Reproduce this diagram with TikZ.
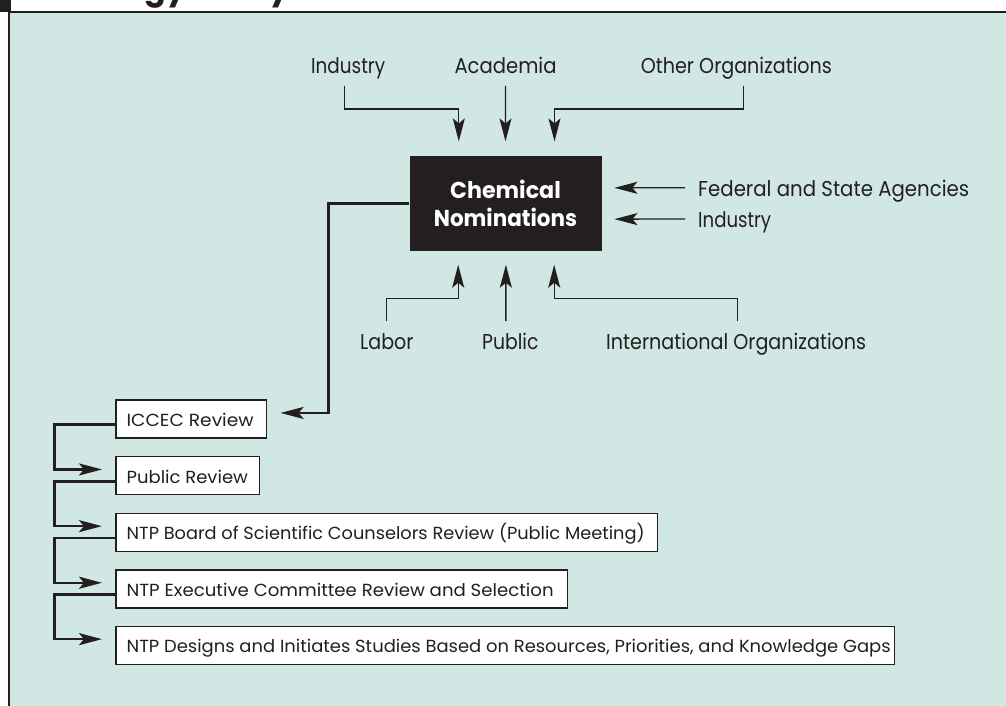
\documentclass[tikz,border=0pt]{standalone}
\usepackage{fontspec}
\setmainfont{Poppins}
\usetikzlibrary{arrows.meta}
\definecolor{bgteal}{HTML}{D1E7E4}
\definecolor{ink}{HTML}{231F20}
\newcommand{\fitw}[2]{\resizebox{#1}{\height}{#2}}
\tikzset{
  lbl/.style={inner sep=0pt, anchor=base west, text=ink, font=\fontsize{21.5}{24}\selectfont},
  stepbox/.style={draw=ink, line width=1.3pt, fill=white, anchor=north west, inner xsep=10.7pt, inner ysep=0pt,
     minimum height=38pt, text height=16pt, text depth=1.2pt, text=ink, font=\fontsize{17.5}{20}\selectfont},
  tarr/.style={draw=ink, line width=1.3pt, -{Stealth[length=23pt,width=12pt,inset=5pt]}},
  karr/.style={draw=ink, line width=2.5pt, -{Stealth[length=23pt,width=12pt,inset=5pt]}},
}
\begin{document}
\begin{tikzpicture}[x=1pt,y=-1pt]
\useasboundingbox (0,0) rectangle (1006,706);
\fill[bgteal] (10,12) rectangle (1006,706);
\draw[ink, line width=2pt] (9,12) -- (1006,12);
\draw[ink, line width=2pt] (9,11) -- (9,706);
\fill[ink] (0,0) rectangle (10.5,12.5);
\begin{scope}
  \clip (11,0) rectangle (1006,11);
  \node[inner sep=0pt, anchor=base east, text=ink, font=\bfseries\fontsize{32}{34}\selectfont] (ttl) at (290,0) {Toxicology Study};
\end{scope}

% chemical nominations box
\node[fill=ink, minimum width=192pt, minimum height=95.3pt, inner sep=0pt, anchor=north west, text=white,
      align=center, font=\bfseries\fontsize{23}{28}\selectfont] (cn) at (409.3,155.7)
      {\fitw{110.7pt}{Chemical}\\\fitw{143.2pt}{Nominations}};

% source labels
\node[lbl] (indT) at (311,73.5) {\fitw{74pt}{Industry}};
\node[lbl] (acad) at (454.3,73.5) {\fitw{102pt}{Academia}};
\node[lbl] (other) at (640.7,73.5) {\fitw{191pt}{Other Organizations}};
\node[lbl] (fed) at (698,196) {\fitw{271pt}{Federal and State Agencies}};
\node[lbl] (indR) at (698,227) {\fitw{73pt}{Industry}};
\node[lbl] (labor) at (360,349.5) {\fitw{53.3pt}{Labor}};
\node[lbl] (public) at (482,349.5) {\fitw{56.3pt}{Public}};
\node[lbl] (intl) at (606,349.5) {\fitw{260pt}{International Organizations}};

% review boxes
\node[stepbox] (b1) at (115.3,399.3) {\makebox[129.3pt][l]{\fitw{127pt}{ICCEC Review}}};
\node[stepbox] (b2) at (115.3,456) {\makebox[122.3pt][l]{\fitw{121.3pt}{Public Review}}};
\node[stepbox] (b3) at (115.3,512.7) {\makebox[520.3pt][l]{\fitw{518pt}{NTP Board of Scientific Counselors Review (Public Meeting)}}};
\node[stepbox] (b4) at (115.3,569.3) {\makebox[430.3pt][l]{\fitw{427pt}{NTP Executive Committee Review and Selection}}};
\node[stepbox] (b5) at (115.3,625.7) {\makebox[756.8pt][l]{\fitw{764pt}{NTP Designs and Initiates Studies Based on Resources, Priorities, and Knowledge Gaps}}};

% inputs from above
\draw[tarr] ([xshift=-3.7pt,yshift=-12.5pt]indT.base) -- ++(0,23) -| ([xshift=-46.7pt,yshift=14.3pt]cn.north);
\draw[tarr] ([yshift=-12.5pt]acad.base) -- ([yshift=14.3pt]cn.north);
\draw[tarr] ([xshift=7.4pt,yshift=-12.5pt]other.base) -- ++(0,23) -| ([xshift=49pt,yshift=14.3pt]cn.north);
% inputs from right
\draw[tarr] ([xshift=-13pt,yshift=8.3pt]fed.base west) -- ([xshift=12.7pt,yshift=15.7pt]cn.east);
\draw[tarr] ([xshift=-13pt,yshift=8pt]indR.base west) -- ([xshift=12.7pt,yshift=-15.6pt]cn.east);
% inputs from below
\draw[tarr] ([xshift=-0.2pt,yshift=28.5pt]labor.base) -- ++(0,-22.7) -| ([xshift=-47.3pt,yshift=-13.3pt]cn.south);
\draw[tarr] ([xshift=-4.5pt,yshift=28.5pt]public.base) -- ([xshift=0.4pt,yshift=-13.3pt]cn.south);
\draw[tarr] ([xshift=1.6pt,yshift=28.5pt]intl.base) -- ++(0,-22.7) -| ([xshift=48.7pt,yshift=-13.3pt]cn.south);

% review chain
\draw[karr] (cn.west) -- ++(-81,0) |- ([xshift=13.3pt,yshift=6pt]b1.east);
\draw[karr] ([yshift=-5.6pt]b1.west) -- ++(-61,0) |- ([xshift=-13.3pt,yshift=6.2pt]b2.west);
\draw[karr] ([yshift=-5.6pt]b2.west) -- ++(-61,0) |- ([xshift=-13.3pt,yshift=6.2pt]b3.west);
\draw[karr] ([yshift=-5.6pt]b3.west) -- ++(-61,0) |- ([xshift=-13.3pt,yshift=6.2pt]b4.west);
\draw[karr] ([yshift=-5.6pt]b4.west) -- ++(-61,0) |- ([xshift=-13.3pt,yshift=6.2pt]b5.west);
\end{tikzpicture}
\end{document}
